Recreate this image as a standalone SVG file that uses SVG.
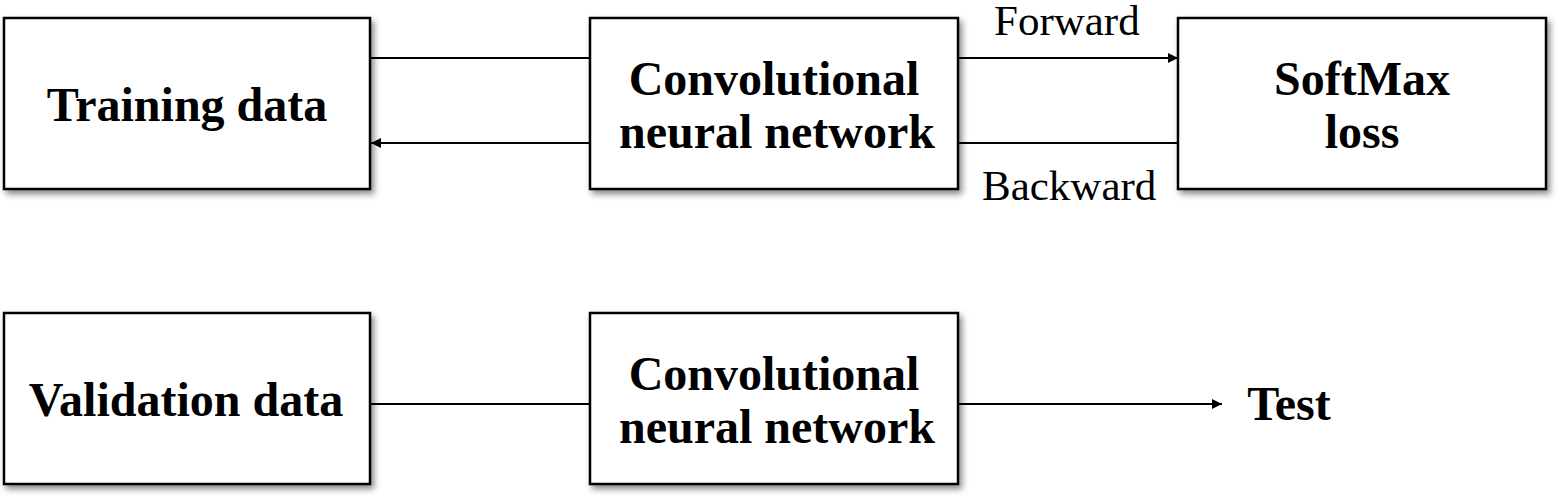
<svg xmlns="http://www.w3.org/2000/svg" width="1560" height="497" viewBox="0 0 1560 497">
<style>
.box{fill:#fff;stroke:#000;stroke-width:2.5;filter:url(#sh)}
.t{font-family:"Liberation Serif","DejaVu Serif",serif;font-weight:bold;font-size:48px;text-anchor:middle;fill:#000}
.l{font-family:"Liberation Serif","DejaVu Serif",serif;font-size:43px;fill:#000}
.c{stroke:#000;stroke-width:2;fill:none}
</style>
<defs>
<filter id="sh" x="-10%" y="-10%" width="130%" height="140%">
<feDropShadow dx="3" dy="4" stdDeviation="3" flood-color="#000" flood-opacity="0.45"/>
</filter>
<marker id="ah" viewBox="0 0 10 10" refX="10" refY="5" markerWidth="11" markerHeight="10" markerUnits="userSpaceOnUse" orient="auto">
<path d="M0,0 L10,5 L0,10 z" fill="#000"/>
</marker>
</defs>
<g id="training">
<rect class="box" x="4" y="18" width="366" height="171"/>
<text class="t" x="187" y="121">Training data</text>
</g>
<g id="cnn1">
<rect class="box" x="590" y="18" width="368" height="171"/>
<text class="t" x="774" y="95">Convolutional</text>
<text class="t" x="777" y="148">neural network</text>
</g>
<g id="softmax">
<rect class="box" x="1178" y="18" width="368" height="171"/>
<text class="t" x="1362" y="95">SoftMax</text>
<text class="t" x="1362" y="148">loss</text>
</g>
<g id="validation">
<rect class="box" x="4" y="313" width="366" height="171"/>
<text class="t" x="186" y="416">Validation data</text>
</g>
<g id="cnn2">
<rect class="box" x="590" y="313" width="368" height="171"/>
<text class="t" x="774" y="390">Convolutional</text>
<text class="t" x="777" y="443">neural network</text>
</g>
<g id="test">
<text class="t" x="1289" y="420">Test</text>
</g>
<g id="connectors">
<line class="c" x1="370" y1="58" x2="590" y2="58"/>
<line class="c" x1="958" y1="58" x2="1178" y2="58" marker-end="url(#ah)"/>
<line class="c" x1="1178" y1="143" x2="958" y2="143"/>
<line class="c" x1="590" y1="143" x2="371" y2="143" marker-end="url(#ah)"/>
<line class="c" x1="370" y1="404" x2="590" y2="404"/>
<line class="c" x1="958" y1="404" x2="1222" y2="404" marker-end="url(#ah)"/>
<text class="l" x="994" y="35">Forward</text>
<text class="l" x="982" y="200">Backward</text>
</g>
</svg>
